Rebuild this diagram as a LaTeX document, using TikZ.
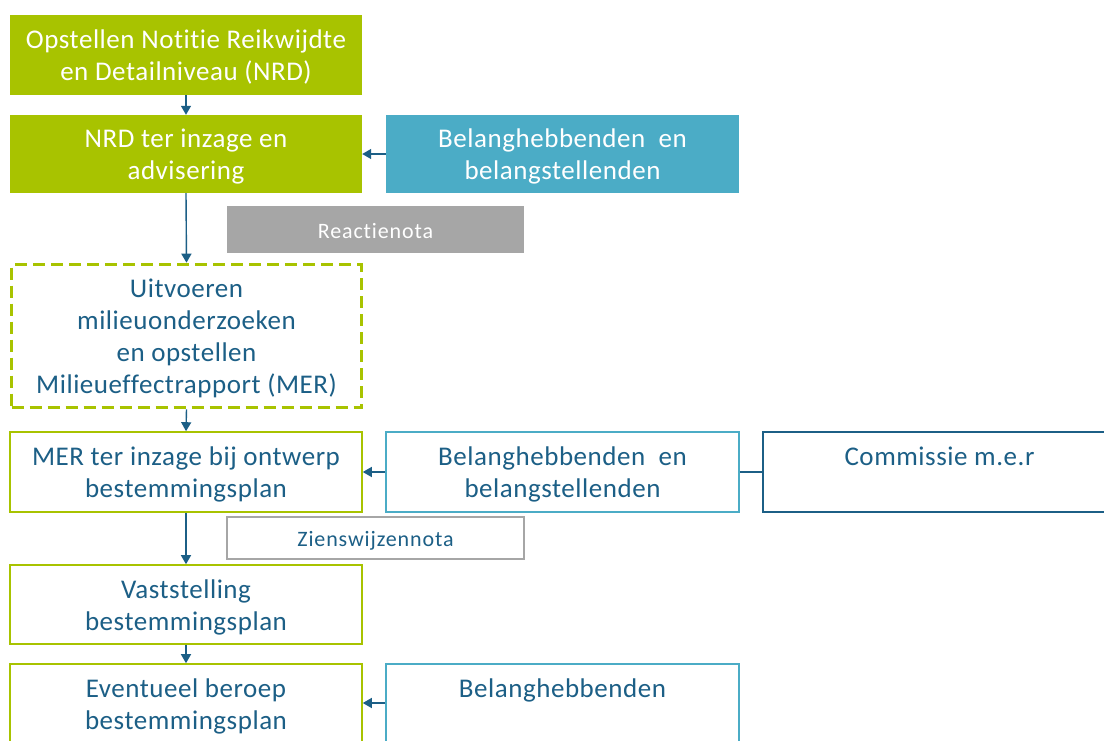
\documentclass[tikz,border=0pt]{standalone}
\usepackage{fontspec}
\setmainfont{Carlito}[LetterSpace=2,Ligatures=NoCommon]
\newfontfamily\notefont{Carlito}[LetterSpace=4,Ligatures=NoCommon]
\usetikzlibrary{arrows.meta}
\definecolor{cgreen}{HTML}{A8C300}
\definecolor{cblue}{HTML}{4BACC6}
\definecolor{cdark}{HTML}{1C5F86}
\definecolor{cgray}{HTML}{A6A6A6}
\newcommand\topst{\rule{0pt}{29.4pt}}
\newcommand\botst{\rule[-9.6pt]{0pt}{9.6pt}}
\newcommand\notest{\rule[-7.8pt]{0pt}{33pt}}
\tikzset{
  base/.style={rectangle, inner sep=0pt, align=center, font=\fontsize{27}{32}\selectfont},
  greenfill/.style={base, fill=cgreen, text=white},
  bluefill/.style={base, fill=cblue, text=white},
  greenbox/.style={base, draw=cgreen, line width=1.6pt, text=cdark},
  lbluebox/.style={base, draw=cblue, line width=1.6pt, text=cdark},
  dbluebox/.style={base, draw=cdark, line width=1.6pt, text=cdark},
  dashbox/.style={base, draw=cgreen, line width=3.6pt, dash pattern=on 12pt off 6pt, text=cdark},
  notefill/.style={base, fill=cgray, text=white, font=\notefont\fontsize{22}{26}\selectfont},
  notebox/.style={base, draw=cgray, line width=1.4pt, text=cdark, font=\notefont\fontsize{22}{26}\selectfont},
  conn/.style={draw=cdark, line width=1.4pt, -{Triangle[length=9pt,width=10pt]}},
  link/.style={draw=cdark, line width=1.4pt},
}
\begin{document}
\begin{tikzpicture}[x=1pt,y=-1pt]
\clip (0,0) rectangle (1104,740);
\fill[white] (0,0) rectangle (1104,740);
% boxes (centers and sizes in px)
\node[greenfill, minimum width=352pt, minimum height=80pt] (b1) at (186,55) {\topst Opstellen Notitie Reikwijdte\\en Detailniveau (NRD)\botst};
\node[greenfill, minimum width=352pt, minimum height=78pt] (b2) at (186,154) {\topst NRD ter inzage en\\advisering\botst};
\node[bluefill, minimum width=353pt, minimum height=78pt] (b3) at (562.5,154) {\topst Belanghebbenden\ \ en\\belangstellenden\botst};
\node[notefill, minimum width=297pt, minimum height=47pt] (rn) at (375.5,229.5) {\notest Reactienota};
\node[dashbox, minimum width=350pt, minimum height=143pt] (b5) at (186.5,336) {\topst Uitvoeren\\milieuonderzoeken\\en opstellen\\Milieueffectrapport (MER)\botst};
\node[greenbox, minimum width=352pt, minimum height=80pt] (b6) at (186,472) {\topst MER ter inzage bij ontwerp\\bestemmingsplan\botst};
\node[lbluebox, minimum width=353pt, minimum height=80pt] (b7) at (562.5,472) {\topst Belanghebbenden\ \ en\\belangstellenden\botst};
\node[dbluebox, minimum width=353pt, minimum height=80pt] (b8) at (939.5,472) {\topst Commissie m.e.r\\\botst};
\node[notebox, minimum width=297pt, minimum height=42pt] (zn) at (375.5,538) {\notest Zienswijzennota};
\node[greenbox, minimum width=352pt, minimum height=79pt] (b10) at (186,604.5) {\topst Vaststelling\\bestemmingsplan\botst};
\node[greenbox, minimum width=352pt, minimum height=80pt] (b11) at (186,704) {\topst Eventueel beroep\\bestemmingsplan\botst};
\node[lbluebox, minimum width=353pt, minimum height=80pt] (b12) at (562.5,704) {\topst Belanghebbenden\\\botst};
% connectors
\draw[conn] (b1.south) -- (b2.north);
\draw[conn] (b2.south) -- (b5.north);
\draw[conn] (b5.south) -- (b6.north);
\draw[conn] (b6.south) -- (b10.north);
\draw[conn] (b10.south) -- (b11.north);
\draw[conn] (b3.west) -- (b2.east);
\draw[conn] (b7.west) -- (b6.east);
\draw[link] (b7.east) -- (b8.west);
\draw[conn] (b12.west |- 0,703) coordinate (c12) -- (b11.east |- c12);
\end{tikzpicture}
\end{document}
